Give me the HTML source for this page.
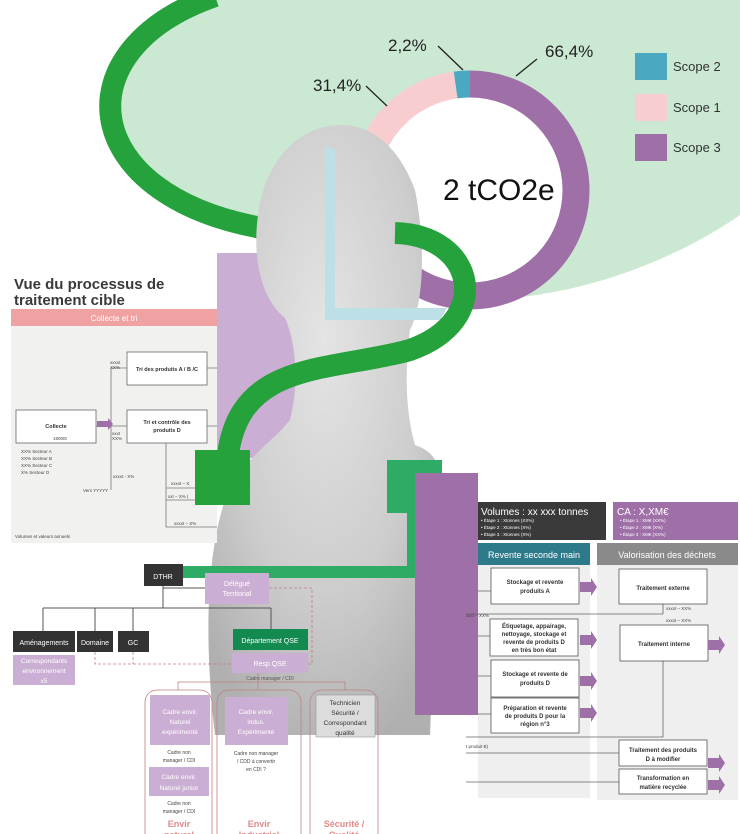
<!DOCTYPE html>
<html><head><meta charset="utf-8"><style>
html,body{margin:0;padding:0;background:#fff;}
svg{display:block;font-family:"Liberation Sans",sans-serif;}
</style></head><body>
<svg width="740" height="834" viewBox="0 0 740 834" xmlns="http://www.w3.org/2000/svg">
<defs>
<radialGradient id="st" cx="0.5" cy="0.35" r="0.7">
<stop offset="0" stop-color="#e4e4e4"/><stop offset="0.6" stop-color="#cdcdcd"/><stop offset="1" stop-color="#b0b0b0"/>
</radialGradient>
</defs>
<path d="M205 0 C70 40 80 200 265 228 L340 255 L470 300 C590 300 690 250 740 215 L740 0 Z" fill="#cbe8d2"/>
<circle cx="470" cy="190" r="106" fill="#fff"/>
<g transform="rotate(-90 470 190)" fill="none" stroke-width="27">
<circle cx="470" cy="190" r="106" stroke="#9f6fa8" stroke-dasharray="442.2 666" />
<circle cx="470" cy="190" r="106" stroke="#f8cdd0" stroke-dasharray="0 442.2 209.1 666" />
<circle cx="470" cy="190" r="106" stroke="#4aa8c0" stroke-dasharray="0 651.3 14.7 666" />
</g>
<path d="M215 -4 C60 50 78 195 262 228" fill="none" stroke="#26a23c" stroke-width="22"/>
<g font-size="17" fill="#222">
<text x="388" y="51">2,2%</text><text x="545" y="57">66,4%</text><text x="313" y="91">31,4%</text>
</g>
<g stroke="#222" stroke-width="1.3"><line x1="438" y1="46" x2="463" y2="70"/><line x1="366" y1="86" x2="387" y2="106"/><line x1="537" y1="59" x2="516" y2="76"/></g>
<rect x="635" y="53" width="32" height="27" fill="#4aa8c0"/>
<rect x="635" y="94" width="32" height="27" fill="#f8cdd0"/>
<rect x="635" y="134" width="32" height="27" fill="#9f6fa8"/>
<g font-size="13" fill="#333"><text x="673" y="71">Scope 2</text><text x="673" y="112">Scope 1</text><text x="673" y="152">Scope 3</text></g>
<rect x="217" y="253" width="90" height="205" fill="#cbaed3"/>
<path d="M340 125 C300 125 265 160 258 215 C252 260 262 300 285 318 C295 340 300 380 290 420 C270 445 240 460 225 500 C205 560 205 650 215 735 L430 735 L440 480 C440 460 430 450 415 445 C405 410 405 370 410 330 C425 300 425 240 415 190 C400 150 375 125 340 125 Z" fill="url(#st)"/>
<text x="443" y="200" font-size="30" fill="#111">2 tCO2e</text>
<path d="M325 145 L335 150 L335 308 L447 308 L440 320 L325 320 Z" fill="#bde0e6"/>
<path d="M395 233 C475 235 495 320 410 350 C330 372 240 360 228 455" fill="none" stroke="#26a23c" stroke-width="22"/>
<text x="14" y="289" font-size="15" font-weight="bold" fill="#3a3a3a">Vue du processus de</text>
<text x="14" y="305" font-size="15" font-weight="bold" fill="#3a3a3a">traitement cible</text>
<rect x="11" y="309" width="206" height="17" fill="#f0a2a2"/>
<text x="114" y="321" font-size="8" fill="#fff" text-anchor="middle">Collecte et tri</text>
<rect x="11" y="326" width="206" height="217" fill="#f1f1ef"/>
<rect x="195" y="450" width="55" height="55" fill="#26a23c"/>
<g fill="#fff" stroke="#666" stroke-width="0.8">
<rect x="127" y="352" width="80" height="33"/><rect x="16" y="410" width="80" height="33"/><rect x="127" y="410" width="80" height="33"/>
</g>
<g stroke="#777" stroke-width="0.8" fill="none">
<path d="M96 426 L127 426 M111 426 L111 368 L127 368 M111 426 L111 490 M166 443 L166 527 L217 527 M166 488 L195 488 M166 500 L195 500 M207 368 L217 368 M207 426 L217 426"/>
</g>
<path d="M97 421 L108 421 L108 418 L113 424 L108 430 L108 427 L97 427 Z" fill="#9f6fa8"/>
<g font-size="5.5" fill="#333" font-weight="bold" text-anchor="middle">
<text x="167" y="371">Tri des produits A / B /C</text>
<text x="56" y="428">Collecte</text>
<text x="167" y="424">Tri et contrôle des</text><text x="167" y="432">produits D</text>
</g>
<g font-size="4.5" fill="#444">
<text x="53" y="440">19000t</text>
<text x="21" y="453">XX% Secteur A</text><text x="21" y="460">XX% Secteur B</text><text x="21" y="467">XX% Secteur C</text><text x="21" y="474">X% Secteur D</text>
<text x="83" y="492">Vers YYYYY</text><text x="113" y="478">xxxxt - X%</text>
<text x="110" y="364">xxxxt</text><text x="110" y="369">XX%</text>
<text x="112" y="435">xxxt</text><text x="112" y="440">XX%</text>
<text x="171" y="485">xxxxt – X</text><text x="168" y="498">xxt – X% (</text><text x="174" y="525">xxxxt – X%</text>
<text x="15" y="538">Volumes et valeurs annuels</text>
</g>
<rect x="387" y="460" width="55" height="53" fill="#2eac66"/>
<rect x="407" y="510" width="15" height="68" fill="#2eac66"/>
<rect x="183" y="566" width="239" height="12" fill="#2eac66"/>
<rect x="415" y="473" width="63" height="242" fill="#9f6fa8"/>
<rect x="478" y="502" width="128" height="38" fill="#3a3a3a"/>
<text x="481" y="515" font-size="10" fill="#fff">Volumes : xx xxx tonnes</text>
<g font-size="4.5" fill="#fff"><text x="481" y="522">•  Étape 1 : Xtonnes (XX%)</text><text x="481" y="529">•  Étape 2 : Xtonnes (X%)</text><text x="481" y="536">•  Étape 3 : Xtonnes (X%)</text></g>
<rect x="613" y="502" width="125" height="38" fill="#9f6fa8"/>
<text x="617" y="515" font-size="10" fill="#fff">CA : X,XM€</text>
<g font-size="4.5" fill="#fff"><text x="620" y="522">•  Étape 1 : XM€ (XX%)</text><text x="620" y="529">•  Étape 2 : XM€ (X%)</text><text x="620" y="536">•  Étape 3 : XM€ (XX%)</text></g>
<rect x="478" y="543" width="112" height="22" fill="#2d7a8b"/>
<text x="534" y="558" font-size="9" fill="#fff" text-anchor="middle">Revente seconde main</text>
<rect x="478" y="565" width="112" height="233" fill="#efefef"/>
<rect x="597" y="543" width="141" height="22" fill="#8a8a8a"/>
<text x="667" y="558" font-size="9" fill="#fff" text-anchor="middle">Valorisation des déchets</text>
<rect x="597" y="565" width="141" height="235" fill="#efefef"/>
<g stroke="#666" stroke-width="0.8" fill="none">
<path d="M466 614 L663 614 M663 614 L663 604 M478 591 L491 591 M478 636 L490 636 M478 676 L491 676 M478 714 L491 714 M466 737 L663 737 L663 661 M466 753 L619 753 M466 782 L619 782"/>
</g>
<g fill="#fff" stroke="#555" stroke-width="0.8">
<rect x="491" y="568" width="88" height="36"/><rect x="490" y="619" width="88" height="37"/><rect x="491" y="660" width="88" height="37"/><rect x="491" y="698" width="88" height="35"/>
<rect x="619" y="569" width="88" height="35"/><rect x="620" y="625" width="88" height="36"/><rect x="619" y="740" width="88" height="26"/><rect x="619" y="769" width="88" height="25"/>
</g>
<g fill="#9f6fa8">
<path d="M580 582 L591 582 L591 578 L597 587 L591 596 L591 592 L580 592 Z"/>
<path d="M580 635 L591 635 L591 631 L597 640 L591 649 L591 645 L580 645 Z"/>
<path d="M580 676 L591 676 L591 672 L597 681 L591 690 L591 686 L580 686 Z"/>
<path d="M580 708 L591 708 L591 704 L597 713 L591 722 L591 718 L580 718 Z"/>
<path d="M708 640 L719 640 L719 636 L725 645 L719 654 L719 650 L708 650 Z"/>
<path d="M708 758 L719 758 L719 754 L725 763 L719 772 L719 768 L708 768 Z"/>
<path d="M708 780 L719 780 L719 776 L725 785 L719 794 L719 790 L708 790 Z"/>
</g>
<g font-size="6" font-weight="bold" fill="#333" text-anchor="middle">
<text x="535" y="584">Stockage et revente</text><text x="535" y="593">produits A</text>
<text x="534" y="628">Étiquetage, appairage,</text><text x="534" y="636">nettoyage, stockage et</text><text x="534" y="644">revente de produits D</text><text x="534" y="652">en très bon état</text>
<text x="535" y="676">Stockage et revente de</text><text x="535" y="685">produits D</text>
<text x="535" y="710">Préparation et revente</text><text x="535" y="718">de produits D pour la</text><text x="535" y="726">région n°3</text>
<text x="663" y="590">Traitement externe</text>
<text x="664" y="646">Traitement interne</text>
<text x="663" y="752">Traitement des produits</text><text x="663" y="761">D à modifier</text>
<text x="663" y="780">Transformation en</text><text x="663" y="789">matière recyclée</text>
</g>
<g font-size="4.5" fill="#444"><text x="466" y="617">xxxt – XX%</text><text x="666" y="610">xxxxt – XX%</text><text x="666" y="622">xxxxt – XX%</text><text x="466" y="748">t produit B)</text></g>
<g stroke="#555" stroke-width="1" fill="none">
<path d="M163 586 L163 608 M43 608 L271 608 M43 608 L43 631 M95 608 L95 631 M133 608 L133 631 M271 608 L271 629 M163 588 L205 588"/>
</g>
<g stroke="#c08080" stroke-width="0.8" fill="none" stroke-dasharray="3 2">
<path d="M95 652 L95 664 L232 664 M133 652 L133 664 M269 588 L312 588 L312 664 L308 664"/>
</g>
<g stroke="#c08080" stroke-width="0.8" fill="none">
<path d="M178 690 L178 682 L345 682 L345 690 M258 673 L258 690"/>
<rect x="145" y="690" width="67" height="160" rx="12"/>
<rect x="217" y="690" width="84" height="160" rx="12"/>
<rect x="310" y="690" width="68" height="160" rx="12"/>
</g>
<rect x="144" y="564" width="39" height="22" fill="#333"/>
<text x="163" y="579" font-size="7" fill="#fff" text-anchor="middle">DTHR</text>
<rect x="205" y="573" width="64" height="31" fill="#cbaed3"/>
<text x="237" y="586" font-size="7" fill="#fff" text-anchor="middle">Délégué</text><text x="237" y="596" font-size="7" fill="#fff" text-anchor="middle">Territorial</text>
<rect x="13" y="631" width="62" height="21" fill="#333"/><text x="44" y="645" font-size="7" fill="#fff" text-anchor="middle">Aménagements</text>
<rect x="77" y="631" width="36" height="21" fill="#333"/><text x="95" y="645" font-size="7" fill="#fff" text-anchor="middle">Domaine</text>
<rect x="118" y="631" width="31" height="21" fill="#333"/><text x="133" y="645" font-size="7" fill="#fff" text-anchor="middle">GC</text>
<rect x="13" y="655" width="62" height="30" fill="#cbaed3"/>
<g font-size="6.5" fill="#fff" text-anchor="middle"><text x="44" y="663">Correspondants</text><text x="44" y="673">environnement</text><text x="44" y="683">x5</text></g>
<rect x="233" y="629" width="75" height="21" fill="#128a50"/><text x="270" y="643" font-size="7" fill="#fff" text-anchor="middle">Département QSE</text>
<rect x="232" y="653" width="76" height="20" fill="#cbaed3"/><text x="270" y="666" font-size="7" fill="#fff" text-anchor="middle">Resp QSE</text>
<text x="270" y="680" font-size="5" fill="#555" text-anchor="middle">Cadre manager / CDI</text>
<rect x="150" y="695" width="60" height="50" fill="#cbaed3"/>
<g font-size="6.5" fill="#fff" text-anchor="middle"><text x="180" y="714">Cadre envir.</text><text x="180" y="724">Naturel</text><text x="180" y="734">expérimenté</text></g>
<rect x="225" y="697" width="63" height="48" fill="#cbaed3"/>
<g font-size="6.5" fill="#fff" text-anchor="middle"><text x="256" y="714">Cadre envir.</text><text x="256" y="724">indus.</text><text x="256" y="734">Expérimenté</text></g>
<rect x="316" y="695" width="59" height="42" fill="#dcdcdc" stroke="#999" stroke-width="0.6"/>
<g font-size="6.5" fill="#333" text-anchor="middle"><text x="345" y="705">Technicien</text><text x="345" y="715">Sécurité /</text><text x="345" y="725">Correspondant</text><text x="345" y="735">qualité</text></g>
<rect x="149" y="767" width="60" height="29" fill="#cbaed3"/>
<g font-size="6.5" fill="#fff" text-anchor="middle"><text x="179" y="779">Cadre envir.</text><text x="179" y="790">Naturel junior</text></g>
<g font-size="5" fill="#444" text-anchor="middle">
<text x="179" y="754">Cadre non</text><text x="179" y="762">manager / CDI</text>
<text x="179" y="805">Cadre non</text><text x="179" y="813">manager / CDI</text>
<text x="256" y="755">Cadre non manager</text><text x="256" y="763">/ CDD à convertir</text><text x="256" y="771">en CDI ?</text>
</g>
<g font-size="9" font-weight="bold" fill="#e08a8a" text-anchor="middle">
<text x="179" y="827">Envir</text><text x="259" y="827">Envir</text><text x="344" y="827">Sécurité /</text>
<text x="179" y="838">naturel</text><text x="259" y="838">Industriel</text><text x="344" y="838">Qualité</text>
</g>
</svg>
</body></html>
